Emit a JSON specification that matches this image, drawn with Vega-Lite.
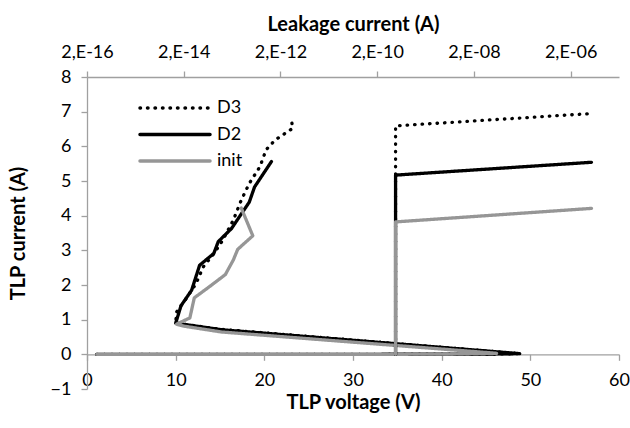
{
  "$schema": "https://vega.github.io/schema/vega-lite/v6.json",
  "width": 532,
  "height": 312,
  "autosize": "none",
  "padding": {"left": 87, "top": 77, "right": 11, "bottom": 39},
  "background": "white",
  "config": {
    "font": "Lato",
    "view": {"stroke": null},
    "axis": {
      "grid": false,
      "labelOverlap": false,
      "domainColor": "#a0a0a0",
      "tickColor": "#a0a0a0",
      "domainWidth": 1.3,
      "tickWidth": 1.3,
      "labelColor": "#000000",
      "labelFont": "Lato",
      "labelFontSize": 18,
      "titleFont": "Lato",
      "titleFontSize": 20,
      "titleFontWeight": "bold",
      "titleColor": "#000000"
    }
  },
  "datasets": {
    "tlp": [
      {"series": "D3", "i": 0, "V": 1.1, "I": 0},
      {"series": "D3", "i": 1, "V": 10, "I": 0},
      {"series": "D3", "i": 2, "V": 20, "I": 0},
      {"series": "D3", "i": 3, "V": 30, "I": 0},
      {"series": "D3", "i": 4, "V": 40, "I": 0.005},
      {"series": "D3", "i": 5, "V": 46, "I": 0.01},
      {"series": "D3", "i": 6, "V": 48.8, "I": 0.02},
      {"series": "D3", "i": 7, "V": 15.2, "I": 0.72},
      {"series": "D3", "i": 8, "V": 10.0, "I": 0.9},
      {"series": "D3", "i": 9, "V": 10.1, "I": 1.22},
      {"series": "D3", "i": 10, "V": 11.3, "I": 1.65},
      {"series": "D3", "i": 11, "V": 12.3, "I": 2.04},
      {"series": "D3", "i": 12, "V": 12.7, "I": 2.28},
      {"series": "D3", "i": 13, "V": 13.1, "I": 2.52},
      {"series": "D3", "i": 14, "V": 14.3, "I": 2.9},
      {"series": "D3", "i": 15, "V": 15.3, "I": 3.29},
      {"series": "D3", "i": 16, "V": 16.5, "I": 3.87},
      {"series": "D3", "i": 17, "V": 17.4, "I": 4.45},
      {"series": "D3", "i": 18, "V": 18.3, "I": 4.93},
      {"series": "D3", "i": 19, "V": 19.5, "I": 5.41},
      {"series": "D3", "i": 20, "V": 20.2, "I": 5.9},
      {"series": "D3", "i": 21, "V": 21.2, "I": 6.18},
      {"series": "D3", "i": 22, "V": 23.2, "I": 6.52},
      {"series": "D3", "i": 23, "V": 23.05, "I": 6.78},
      {"series": "D2", "i": 0, "V": 1.1, "I": 0},
      {"series": "D2", "i": 1, "V": 10, "I": 0},
      {"series": "D2", "i": 2, "V": 20, "I": 0},
      {"series": "D2", "i": 3, "V": 30, "I": 0},
      {"series": "D2", "i": 4, "V": 40, "I": 0.005},
      {"series": "D2", "i": 5, "V": 46, "I": 0.01},
      {"series": "D2", "i": 6, "V": 48.8, "I": 0.02},
      {"series": "D2", "i": 7, "V": 15.15, "I": 0.71},
      {"series": "D2", "i": 8, "V": 10.0, "I": 0.9},
      {"series": "D2", "i": 9, "V": 10.1, "I": 0.98},
      {"series": "D2", "i": 10, "V": 10.6, "I": 1.4},
      {"series": "D2", "i": 11, "V": 11.8, "I": 1.85},
      {"series": "D2", "i": 12, "V": 12.7, "I": 2.57},
      {"series": "D2", "i": 13, "V": 14.3, "I": 2.91},
      {"series": "D2", "i": 14, "V": 14.8, "I": 3.25},
      {"series": "D2", "i": 15, "V": 16.3, "I": 3.63},
      {"series": "D2", "i": 16, "V": 18.3, "I": 4.39},
      {"series": "D2", "i": 17, "V": 18.9, "I": 4.83},
      {"series": "D2", "i": 18, "V": 20.8, "I": 5.56},
      {"series": "init", "i": 0, "V": 1.1, "I": 0},
      {"series": "init", "i": 1, "V": 10, "I": 0},
      {"series": "init", "i": 2, "V": 20, "I": 0},
      {"series": "init", "i": 3, "V": 30, "I": 0},
      {"series": "init", "i": 4, "V": 40, "I": 0.005},
      {"series": "init", "i": 5, "V": 46.2, "I": 0.03},
      {"series": "init", "i": 6, "V": 15.15, "I": 0.645},
      {"series": "init", "i": 7, "V": 11.0, "I": 0.81},
      {"series": "init", "i": 8, "V": 10.1, "I": 0.87},
      {"series": "init", "i": 9, "V": 11.6, "I": 1.05},
      {"series": "init", "i": 10, "V": 12.1, "I": 1.63},
      {"series": "init", "i": 11, "V": 13.8, "I": 1.95},
      {"series": "init", "i": 12, "V": 15.6, "I": 2.3},
      {"series": "init", "i": 13, "V": 16.5, "I": 2.72},
      {"series": "init", "i": 14, "V": 17.0, "I": 3.03},
      {"series": "init", "i": 15, "V": 18.7, "I": 3.42},
      {"series": "init", "i": 16, "V": 17.4, "I": 4.22}
    ],
    "leak": [
      {"series": "D3", "i": 0, "L": 4.8e-10, "I": 0},
      {"series": "D3", "i": 1, "L": 4.8e-10, "I": 6.59},
      {"series": "D3", "i": 2, "L": 4.55e-6, "I": 6.94},
      {"series": "D2", "i": 0, "L": 4.8e-10, "I": 0},
      {"series": "D2", "i": 1, "L": 4.8e-10, "I": 5.17},
      {"series": "D2", "i": 2, "L": 5.4e-6, "I": 5.54},
      {"series": "init", "i": 0, "L": 4.8e-10, "I": 0},
      {"series": "init", "i": 1, "L": 4.8e-10, "I": 3.82},
      {"series": "init", "i": 2, "L": 5.4e-6, "I": 4.21}
    ]
  },
  "layer": [
    {
      "data": {"name": "tlp"},
      "mark": {"type": "line", "strokeWidth": 3.3, "strokeCap": "round", "strokeJoin": "round"},
      "encoding": {
        "x": {
          "field": "V", "type": "quantitative",
          "scale": {"domain": [0, 60], "nice": false, "zero": false},
          "axis": {
            "orient": "bottom", "title": "TLP voltage (V)",
            "values": [0, 10, 20, 30, 40, 50, 60],
            "offset": -34.7, "tickSize": 6, "labelPadding": 11,
            "titlePadding": 3, "labelFlush": false, "labelOverlap": false
          }
        },
        "y": {
          "field": "I", "type": "quantitative",
          "scale": {"domain": [-1, 8], "nice": false, "zero": false},
          "axis": {
            "title": "TLP current (A)",
            "values": [-1, 0, 1, 2, 3, 4, 5, 6, 7, 8],
            "tickSize": 6, "labelPadding": 10, "titlePadding": 22,
            "labelOverlap": false
          }
        },
        "color": {
          "field": "series", "type": "nominal",
          "scale": {"domain": ["D3", "D2", "init"], "range": ["#000000", "#000000", "#969696"]},
          "legend": {
            "title": null, "orient": "none", "legendX": 51, "legendY": 19,
            "symbolType": "stroke", "symbolSize": 4900, "symbolStrokeWidth": 3.5,
            "labelFontSize": 18, "labelColor": "#000000", "labelOffset": 5,
            "clipHeight": 24, "rowPadding": 2.5, "padding": 0,
            "encode": {"symbols": {"update": {"strokeCap": {"value": "round"}}}}
          }
        },
        "strokeDash": {
          "field": "series", "type": "nominal",
          "scale": {"domain": ["D3", "D2", "init"], "range": [[0.5, 7], [1, 0], [1, 0]]}
        },
        "order": {"field": "i", "type": "quantitative"}
      }
    },
    {
      "data": {"name": "leak"},
      "mark": {"type": "line", "strokeWidth": 3.3, "strokeCap": "round", "strokeJoin": "round"},
      "encoding": {
        "x": {
          "field": "L", "type": "quantitative",
          "scale": {"type": "log", "domain": [2e-16, 2e-5], "nice": false},
          "axis": {
            "orient": "top", "title": "Leakage current (A)",
            "values": [2e-16, 2e-14, 2e-12, 2e-10, 2e-8, 2e-6],
            "labelExpr": "'2,E-' + (round(-log(datum.value/2)/LN10) < 10 ? '0' : '') + round(-log(datum.value/2)/LN10)",
            "tickSize": 6, "labelPadding": 10, "titlePadding": 9, "labelFlush": false
          }
        },
        "y": {
          "field": "I", "type": "quantitative",
          "axis": {
            "title": "TLP current (A)",
            "values": [-1, 0, 1, 2, 3, 4, 5, 6, 7, 8],
            "tickSize": 6, "labelPadding": 10, "titlePadding": 22,
            "labelOverlap": false
          }
        },
        "color": {"field": "series", "type": "nominal"},
        "strokeDash": {"field": "series", "type": "nominal"},
        "order": {"field": "i", "type": "quantitative"}
      }
    }
  ],
  "resolve": {"scale": {"x": "independent"}}
}
